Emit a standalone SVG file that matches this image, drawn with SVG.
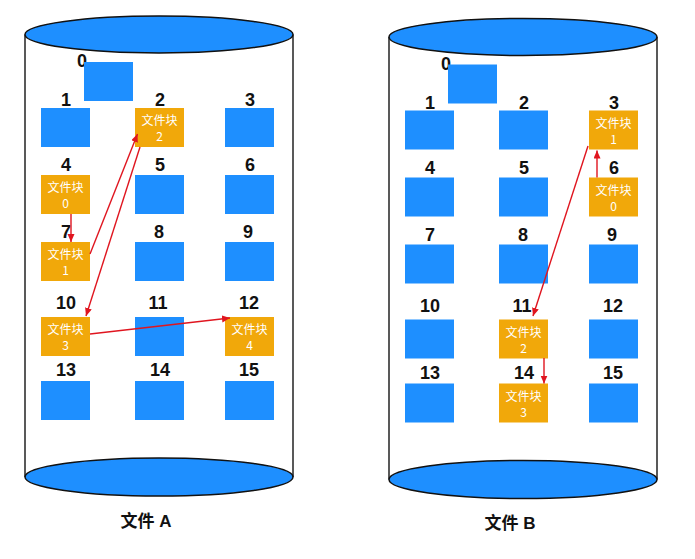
<svg xmlns="http://www.w3.org/2000/svg" width="695" height="559" viewBox="0 0 695 559">
<style>
.cyl{fill:#1E8FFF;stroke:#111;stroke-width:1.5}
.side{stroke:#222;stroke-width:1.5;fill:none}
.b{fill:#1E8FFF}
.o{fill:#F1A80A}
.num{font-family:"Liberation Sans",Arial,sans-serif;font-weight:bold;font-size:18px;fill:#111;text-anchor:middle}
.bt{font-family:"Noto Sans CJK SC","Liberation Sans",sans-serif;font-size:12px;fill:#fff;text-anchor:middle}
.cap{font-family:"Liberation Sans","Noto Sans CJK SC",sans-serif;font-weight:bold;font-size:17px;fill:#111;text-anchor:middle}
.arr{stroke:#E0151F;stroke-width:1.4;fill:none;marker-end:url(#ah)}
</style>
<defs>
<marker id="ah" markerUnits="userSpaceOnUse" markerWidth="9" markerHeight="8" refX="8" refY="3.5" orient="auto">
<path d="M0,0 L8,3.5 L0,7 z" fill="#E0151F"/>
</marker>
</defs>
<rect width="695" height="559" fill="#fff"/>

<!-- File A -->
<g id="diskA">
<line class="side" x1="25" y1="34.5" x2="25" y2="477"/>
<line class="side" x1="293" y1="34.5" x2="293" y2="477"/>
<ellipse class="cyl" cx="159" cy="34.5" rx="134" ry="18.5"/>
<ellipse class="cyl" cx="159" cy="477" rx="134" ry="19"/>
</g>
<g id="A0"><text class="num" x="82" y="67">0</text><rect class="b" x="84" y="62" width="49" height="39"/></g>
<g id="A1"><text class="num" x="66" y="106">1</text><rect class="b" x="41" y="108" width="49" height="39"/></g>
<g id="A2"><text class="num" x="160" y="106">2</text><rect class="o" x="135" y="108" width="49" height="39"/><text class="bt" x="159.5" y="125">文件块</text><text class="bt" x="159.5" y="141">2</text></g>
<g id="A3"><text class="num" x="250" y="106">3</text><rect class="b" x="225" y="108" width="49" height="39"/></g>
<g id="A4"><text class="num" x="66" y="171">4</text><rect class="o" x="41" y="175" width="49" height="39"/><text class="bt" x="65.5" y="192">文件块</text><text class="bt" x="65.5" y="208">0</text></g>
<g id="A5"><text class="num" x="160" y="171">5</text><rect class="b" x="135" y="175" width="49" height="39"/></g>
<g id="A6"><text class="num" x="250" y="171">6</text><rect class="b" x="225" y="175" width="49" height="39"/></g>
<g id="A7"><text class="num" x="66" y="238">7</text><rect class="o" x="41" y="242" width="49" height="39"/><text class="bt" x="65.5" y="259">文件块</text><text class="bt" x="65.5" y="275">1</text></g>
<g id="A8"><text class="num" x="159" y="238">8</text><rect class="b" x="135" y="242" width="49" height="39"/></g>
<g id="A9"><text class="num" x="248" y="238">9</text><rect class="b" x="225" y="242" width="49" height="39"/></g>
<g id="A10"><text class="num" x="66" y="309">10</text><rect class="o" x="41" y="317" width="49" height="39"/><text class="bt" x="65.5" y="334">文件块</text><text class="bt" x="65.5" y="350">3</text></g>
<g id="A11"><text class="num" x="158" y="309">11</text><rect class="b" x="135" y="317" width="49" height="39"/></g>
<g id="A12"><text class="num" x="249" y="309">12</text><rect class="o" x="225" y="317" width="49" height="39"/><text class="bt" x="249.5" y="334">文件块</text><text class="bt" x="249.5" y="350">4</text></g>
<g id="A13"><text class="num" x="66" y="376">13</text><rect class="b" x="41" y="381" width="49" height="39"/></g>
<g id="A14"><text class="num" x="160" y="376">14</text><rect class="b" x="135" y="381" width="49" height="39"/></g>
<g id="A15"><text class="num" x="249" y="376">15</text><rect class="b" x="225" y="381" width="49" height="39"/></g>
<g id="capA"><text class="cap" x="146" y="527">文件 A</text></g>

<!-- File B -->
<g transform="translate(364,2.5)">
<g id="diskB">
<line class="side" x1="25" y1="34.5" x2="25" y2="477"/>
<line class="side" x1="293" y1="34.5" x2="293" y2="477"/>
<ellipse class="cyl" cx="159" cy="34.5" rx="134" ry="18.5"/>
<ellipse class="cyl" cx="159" cy="477" rx="134" ry="19"/>
</g>
<g id="B0"><text class="num" x="82" y="67">0</text><rect class="b" x="84" y="62" width="49" height="39"/></g>
<g id="B1"><text class="num" x="66" y="106">1</text><rect class="b" x="41" y="108" width="49" height="39"/></g>
<g id="B2"><text class="num" x="160" y="106">2</text><rect class="b" x="135" y="108" width="49" height="39"/></g>
<g id="B3"><text class="num" x="250" y="106">3</text><rect class="o" x="225" y="108" width="49" height="39"/><text class="bt" x="249.5" y="125">文件块</text><text class="bt" x="249.5" y="141">1</text></g>
<g id="B4"><text class="num" x="66" y="171">4</text><rect class="b" x="41" y="175" width="49" height="39"/></g>
<g id="B5"><text class="num" x="160" y="171">5</text><rect class="b" x="135" y="175" width="49" height="39"/></g>
<g id="B6"><text class="num" x="250" y="171">6</text><rect class="o" x="225" y="175" width="49" height="39"/><text class="bt" x="249.5" y="192">文件块</text><text class="bt" x="249.5" y="208">0</text></g>
<g id="B7"><text class="num" x="66" y="238">7</text><rect class="b" x="41" y="242" width="49" height="39"/></g>
<g id="B8"><text class="num" x="159" y="238">8</text><rect class="b" x="135" y="242" width="49" height="39"/></g>
<g id="B9"><text class="num" x="248" y="238">9</text><rect class="b" x="225" y="242" width="49" height="39"/></g>
<g id="B10"><text class="num" x="66" y="309">10</text><rect class="b" x="41" y="317" width="49" height="39"/></g>
<g id="B11"><text class="num" x="158" y="309">11</text><rect class="o" x="135" y="317" width="49" height="39"/><text class="bt" x="159.5" y="334">文件块</text><text class="bt" x="159.5" y="350">2</text></g>
<g id="B12"><text class="num" x="249" y="309">12</text><rect class="b" x="225" y="317" width="49" height="39"/></g>
<g id="B13"><text class="num" x="66" y="376">13</text><rect class="b" x="41" y="381" width="49" height="39"/></g>
<g id="B14"><text class="num" x="160" y="376">14</text><rect class="o" x="135" y="381" width="49" height="39"/><text class="bt" x="159.5" y="398">文件块</text><text class="bt" x="159.5" y="414">3</text></g>
<g id="B15"><text class="num" x="249" y="376">15</text><rect class="b" x="225" y="381" width="49" height="39"/></g>
<g id="capB"><text class="cap" x="146" y="526">文件 B</text></g>
</g>

<g id="connectors">
<line class="arr" x1="71" y1="214" x2="71" y2="242"/>
<line class="arr" x1="90" y1="254" x2="137.5" y2="134"/>
<line class="arr" x1="140" y1="147" x2="86" y2="316"/>
<line class="arr" x1="90" y1="334" x2="230" y2="318"/>
<line class="arr" x1="597" y1="177.5" x2="597" y2="150.5"/>
<line class="arr" x1="588" y1="146" x2="533" y2="316"/>
<line class="arr" x1="544" y1="358" x2="544" y2="383.5"/>
</g>
</svg>
